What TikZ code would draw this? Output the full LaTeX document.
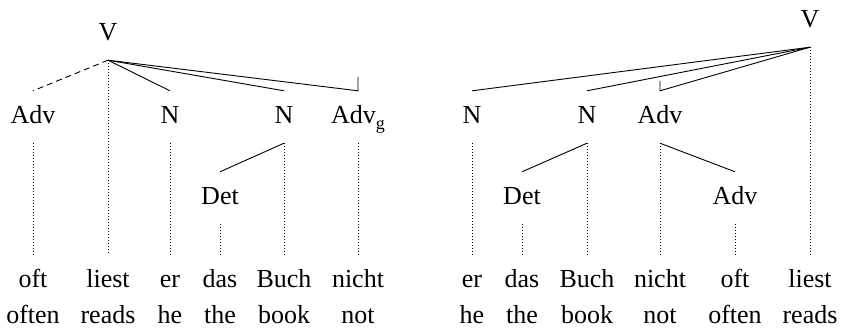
\documentclass[tikz,border=0pt]{standalone}
\usepackage{fontspec}
\setmainfont{Liberation Serif}
\begin{document}
\begin{tikzpicture}[x=1pt,y=-1pt,
  cat/.style={anchor=base, text height=18pt, text depth=6pt, inner ysep=14pt, inner xsep=2pt, font=\fontsize{26}{30}\selectfont},
  wordnode/.style={cat},
  tline/.style={line width=0.9pt},
  dline/.style={line width=0.7pt, dash pattern=on 0.7pt off 2.3pt},
  dashline/.style={line width=0.9pt, dash pattern=on 6pt off 4pt}]
\useasboundingbox (0,0) rectangle (843,330);
% left tree
\node[cat] (lV) at (108,40) {V};
\node[cat] (lAdv) at (33,123) {Adv};
\node[cat] (lN1) at (170,123) {N};
\node[cat] (lN2) at (284,123) {N};
\node[cat] (lAdvg) at (358,123) {Adv\raisebox{-6pt}{\fontsize{18}{20}\selectfont g}};
\node[cat] (lDet) at (220,204) {Det};
\node[wordnode] (lw1) at (33,287) {oft};
\node[wordnode] (lw2) at (108,287) {liest};
\node[wordnode] (lw3) at (170,287) {er};
\node[wordnode] (lw4) at (220,287) {das};
\node[wordnode] (lw5) at (284,287) {Buch};
\node[wordnode] (lw6) at (358,287) {nicht};
\node[wordnode] (lg1) at (33,323) {often};
\node[wordnode] (lg2) at (108,323) {reads};
\node[wordnode] (lg3) at (170,323) {he};
\node[wordnode] (lg4) at (220,323) {the};
\node[wordnode] (lg5) at (284,323) {book};
\node[wordnode] (lg6) at (358,323) {not};
\draw[dashline] (lV.south) -- (lAdv.north);
\draw[dline] (lV.south) -- (lw2.north);
\draw[tline] (lV.south) -- (lN1.north);
\draw[tline] (lV.south) -- (lN2.north);
\draw[tline] (lV.south) -- (lAdvg.north) -- ++(0,-14);
\draw[dline] (lAdv.south) -- (lw1.north);
\draw[dline] (lN1.south) -- (lw3.north);
\draw[tline] (lN2.south) -- (lDet.north);
\draw[dline] (lN2.south) -- (lw5.north);
\draw[dline] (lDet.south) -- (lw4.north);
\draw[dline] (lAdvg.south) -- (lw6.north);
% right tree
\node[cat] (rV) at (810,27) {V};
\node[cat] (rN1) at (472,123) {N};
\node[cat] (rN2) at (587,123) {N};
\node[cat] (rAdv1) at (660,123) {Adv};
\node[cat] (rDet) at (522,204) {Det};
\node[cat] (rAdv2) at (735,204) {Adv};
\node[wordnode] (rw1) at (472,287) {er};
\node[wordnode] (rw2) at (522,287) {das};
\node[wordnode] (rw3) at (587,287) {Buch};
\node[wordnode] (rw4) at (660,287) {nicht};
\node[wordnode] (rw5) at (735,287) {oft};
\node[wordnode] (rw6) at (810,287) {liest};
\node[wordnode] (rg1) at (472,323) {he};
\node[wordnode] (rg2) at (522,323) {the};
\node[wordnode] (rg3) at (587,323) {book};
\node[wordnode] (rg4) at (660,323) {not};
\node[wordnode] (rg5) at (735,323) {often};
\node[wordnode] (rg6) at (810,323) {reads};
\draw[tline] (rV.south) -- (rN1.north);
\draw[tline] (rV.south) -- (rN2.north);
\draw[tline] (rV.south) -- (rAdv1.north) -- ++(0,-10);
\draw[dline] (rV.south) -- (rw6.north);
\draw[dline] (rN1.south) -- (rw1.north);
\draw[tline] (rN2.south) -- (rDet.north);
\draw[dline] (rN2.south) -- (rw3.north);
\draw[dline] (rDet.south) -- (rw2.north);
\draw[tline] (rAdv1.south) -- (rAdv2.north);
\draw[dline] (rAdv1.south) -- (rw4.north);
\draw[dline] (rAdv2.south) -- (rw5.north);
\end{tikzpicture}
\end{document}
